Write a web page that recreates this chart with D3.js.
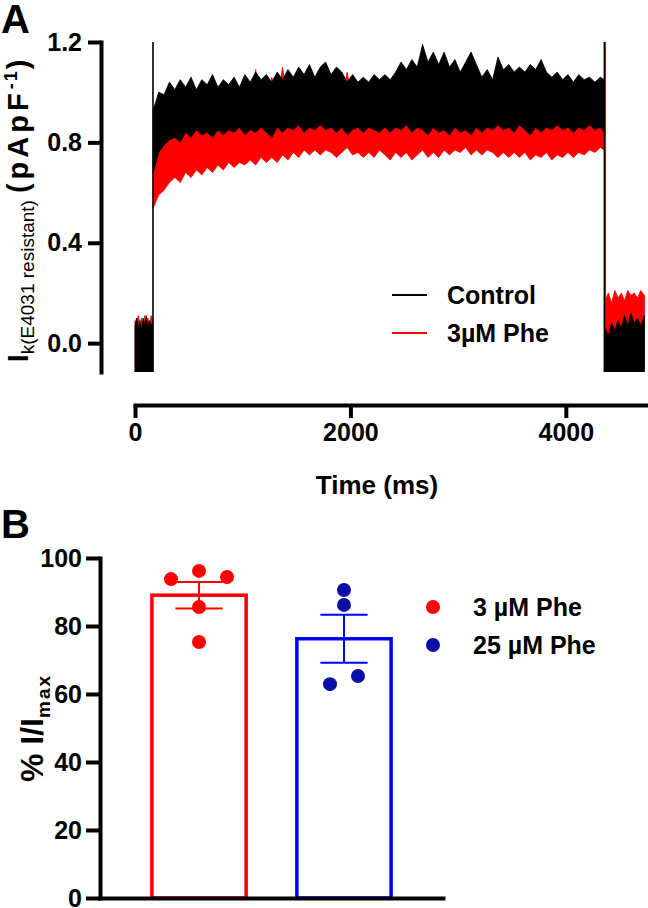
<!DOCTYPE html>
<html>
<head>
<meta charset="utf-8">
<script src="https://cdn.jsdelivr.net/npm/d3@7"></script>
<style>
  body { margin: 0; background: #fff; }
  svg { display: block; }
  text { font-family: "Liberation Sans", Arial, sans-serif; font-weight: bold; fill: #000; }
</style>
</head>
<body>
<svg id="chart" width="648" height="908"></svg>
<script>
// ---------- Panel A: current trace envelopes (time in ms, current in pA/pF)
// null marks a break in the trace (capacitive transient at step on/off)
const traceT = [0, 15, 30, 45, 60, 75, 90, 105, 120, 135, 150, 164,
  166,
  170, 220, 270, 320, 370, 420, 470, 520, 570, 620,
  670, 720, 770, 820, 870, 920, 970, 1020, 1070, 1120,
  1170, 1220, 1270, 1320, 1370, 1420, 1470, 1520, 1570, 1620,
  1670, 1720, 1770, 1820, 1870, 1920, 1970, 2020, 2070, 2120,
  2170, 2220, 2270, 2320, 2370, 2420, 2470, 2520, 2570, 2620,
  2670, 2720, 2770, 2820, 2870, 2920, 2970, 3020, 3070, 3120,
  3170, 3220, 3270, 3320, 3370, 3420, 3470, 3520, 3570, 3620,
  3670, 3720, 3770, 3820, 3870, 3920, 3970, 4020, 4070, 4120,
  4170, 4220, 4270, 4320, 4355,
  4357,
  4365, 4395, 4425, 4455, 4485, 4515, 4545, 4575, 4605, 4635, 4665, 4695, 4730];

const controlHi = [0.07, 0.10, 0.06, 0.09, 0.05, 0.10, 0.07, 0.11, 0.06, 0.09, 0.07, 0.08,
  null,
  0.93, 1.00, 0.99, 1.04, 1.01, 1.05, 1.02, 1.06, 1.01, 1.05,
  1.03, 1.07, 1.02, 1.05, 1.03, 1.06, 1.02, 1.07, 1.04, 1.08,
  1.05, 1.07, 1.04, 1.08, 1.05, 1.09, 1.06, 1.10, 1.07, 1.11,
  1.06, 1.10, 1.12, 1.07, 1.10, 1.08, 1.04, 1.07, 1.04, 1.06,
  1.04, 1.07, 1.05, 1.07, 1.05, 1.08, 1.12, 1.09, 1.13, 1.10,
  1.19, 1.12, 1.16, 1.11, 1.16, 1.10, 1.13, 1.08, 1.12, 1.16,
  1.11, 1.06, 1.09, 1.05, 1.14, 1.09, 1.11, 1.08, 1.10, 1.08,
  1.11, 1.09, 1.13, 1.08, 1.06, 1.08, 1.05, 1.07, 1.04, 1.07,
  1.05, 1.06, 1.04, 1.06, 1.05,
  null,
  0.06, 0.03, 0.08, 0.05, 0.09, 0.06, 0.11, 0.07, 0.12, 0.08, 0.10, 0.07, 0.11];

const controlLo = [-0.15, -0.15, -0.15, -0.15, -0.15, -0.15, -0.15, -0.15, -0.15, -0.15, -0.15, -0.15,
  null,
  0.68, 0.76, 0.79, 0.81, 0.82, 0.80, 0.84, 0.82, 0.85, 0.83,
  0.84, 0.82, 0.85, 0.83, 0.85, 0.84, 0.86, 0.83, 0.85, 0.84,
  0.86, 0.84, 0.82, 0.86, 0.84, 0.86, 0.85, 0.87, 0.84, 0.86,
  0.85, 0.87, 0.85, 0.86, 0.84, 0.86, 0.83, 0.85, 0.86, 0.84,
  0.86, 0.85, 0.84, 0.86, 0.84, 0.86, 0.85, 0.87, 0.84, 0.86,
  0.85, 0.83, 0.86, 0.84, 0.85, 0.83, 0.86, 0.84, 0.85, 0.83,
  0.86, 0.84, 0.86, 0.85, 0.87, 0.85, 0.86, 0.84, 0.87, 0.85,
  0.83, 0.86, 0.84, 0.86, 0.85, 0.87, 0.85, 0.86, 0.84, 0.86,
  0.85, 0.87, 0.85, 0.86, 0.84,
  null,
  -0.15, -0.15, -0.15, -0.15, -0.15, -0.15, -0.15, -0.15, -0.15, -0.15, -0.15, -0.15, -0.15];

const pheHi = [0.09, 0.08, 0.11, 0.07, 0.10, 0.06, 0.11, 0.08, 0.10, 0.07, 0.11, 0.09,
  null,
  0.80, 0.86, 0.88, 0.91, 0.89, 0.93, 0.90, 0.94, 0.91, 0.95,
  0.92, 0.95, 0.91, 0.94, 0.92, 0.96, 0.93, 0.95, 0.92, 1.09,
  0.94, 0.96, 1.06, 0.95, 1.10, 0.96, 0.93, 0.97, 0.94, 0.98,
  0.95, 0.97, 0.95, 0.98, 0.94, 0.97, 1.08, 0.95, 0.97, 0.94,
  0.96, 0.95, 0.97, 0.94, 0.96, 0.95, 0.98, 0.96, 0.99, 0.95,
  0.98, 0.96, 0.99, 0.95, 0.97, 0.94, 0.98, 1.00, 0.96, 0.98,
  0.95, 0.97, 0.94, 0.96, 0.95, 0.97, 0.94, 0.96, 0.95, 0.97,
  0.94, 0.96, 0.95, 0.97, 0.94, 0.96, 0.95, 0.97, 0.94, 0.96,
  0.95, 0.97, 0.94, 0.96, 0.93,
  null,
  0.17, 0.20, 0.16, 0.21, 0.18, 0.20, 0.17, 0.21, 0.19, 0.20, 0.18, 0.21, 0.19];

const pheLo = [-0.15, -0.15, -0.15, -0.15, -0.15, -0.15, -0.15, -0.15, -0.15, -0.15, -0.15, -0.15,
  null,
  0.54, 0.59, 0.61, 0.64, 0.66, 0.64, 0.68, 0.66, 0.69, 0.67,
  0.70, 0.68, 0.71, 0.69, 0.72, 0.70, 0.72, 0.71, 0.73, 0.71,
  0.74, 0.72, 0.74, 0.72, 0.75, 0.73, 0.76, 0.74, 0.77, 0.75,
  0.77, 0.75, 0.77, 0.76, 0.74, 0.76, 0.78, 0.75, 0.76, 0.74,
  0.76, 0.74, 0.77, 0.75, 0.73, 0.76, 0.74, 0.76, 0.73, 0.75,
  0.77, 0.74, 0.76, 0.74, 0.77, 0.75, 0.77, 0.76, 0.78, 0.75,
  0.77, 0.75, 0.77, 0.76, 0.74, 0.76, 0.74, 0.76, 0.74, 0.76,
  0.73, 0.75, 0.74, 0.76, 0.73, 0.75, 0.74, 0.76, 0.74, 0.76,
  0.75, 0.77, 0.76, 0.78, 0.77,
  null,
  -0.10, -0.10, -0.10, -0.10, -0.10, -0.10, -0.10, -0.10, -0.10, -0.10, -0.10, -0.10, -0.10];

// capacitive transients at pulse on / off (ms)
const transientT = [167, 4358];

const timeTicks = [0, 2000, 4000];
const currentTicks = [0, 0.4, 0.8, 1.2];
const traceNames = ["Control", "3\u00b5M Phe"];
const traceColors = ["#000000", "#ff0000"];

// ---------- Panel B: % I/Imax, individual cells
const groups = ["3 \u00b5M Phe", "25 \u00b5M Phe"];
const pts3 = [93.8, 96.2, 94.4, 85.6, 75.3];
const pts25 = [90.6, 86.2, 62.9, 65.3];
const pctTicks = [0, 20, 40, 60, 80, 100];
const barColors = ["#ff0000", "#0000ff"];
const dotColors = ["#ff0000", "#0c0ca8"];

[controlHi, controlLo, pheHi, pheLo].forEach(a => {
  if (a.length !== traceT.length) throw new Error("length mismatch " + a.length + " vs " + traceT.length);
});

const svg = d3.select("#chart");
const FONT = "'Liberation Sans', Arial, sans-serif";

function styleAxis(g) {
  g.attr("font-family", null).attr("font-size", null);
  g.select(".domain").attr("stroke-width", 4).attr("stroke-linecap", "square");
  g.selectAll(".tick line").attr("stroke-width", 4);
  g.selectAll(".tick text").attr("font-size", 25).attr("font-weight", "bold")
    .attr("font-family", FONT).attr("fill", "#000");
}

// ===================== Panel A =====================
const xA = d3.scaleLinear().domain([0, 4800]).range([135, 652]);
const yA = d3.scaleLinear().domain([-0.115, 1.2]).range([372, 42]);

svg.append("defs").append("clipPath").attr("id", "clipA")
  .append("rect")
  .attr("x", xA(0) - 2).attr("y", yA(1.2))
  .attr("width", 648 - xA(0) + 2).attr("height", yA(-0.115) - yA(1.2));

const control = traceT.map((t, i) => ({ t, hi: controlHi[i], lo: controlLo[i] }));
const phe = traceT.map((t, i) => ({ t, hi: pheHi[i], lo: pheLo[i] }));

const envelope = d3.area()
  .defined(d => d.hi != null)
  .x(d => xA(d.t))
  .y0(d => yA(d.lo))
  .y1(d => yA(d.hi));

const traces = svg.append("g").attr("clip-path", "url(#clipA)");

// phe drawn underneath, control on top
traces.append("path")
  .datum(phe)
  .attr("d", envelope)
  .attr("fill", traceColors[1])
  .attr("stroke", traceColors[1])
  .attr("stroke-width", 0.8)
  .attr("stroke-linejoin", "miter");

traces.append("line")
  .attr("x1", xA(transientT[1]) + 1.2).attr("x2", xA(transientT[1]) + 1.2)
  .attr("y1", yA(1.3)).attr("y2", yA(-0.2))
  .attr("stroke", traceColors[1]).attr("stroke-width", 1);

traces.append("path")
  .datum(control)
  .attr("d", envelope)
  .attr("fill", traceColors[0])
  .attr("stroke", traceColors[0])
  .attr("stroke-width", 0.8)
  .attr("stroke-linejoin", "miter");

traces.selectAll("line.transient")
  .data(transientT)
  .join("line")
  .attr("class", "transient")
  .attr("x1", d => xA(d)).attr("x2", d => xA(d))
  .attr("y1", yA(1.3)).attr("y2", yA(-0.2))
  .attr("stroke", "#000").attr("stroke-width", 1.6);

// axes
svg.append("g")
  .attr("transform", "translate(101,0)")
  .call(d3.axisLeft(yA).tickValues(currentTicks).tickFormat(d3.format(".1f"))
    .tickSize(13).tickSizeOuter(0).tickPadding(6))
  .call(styleAxis);

svg.append("g")
  .attr("transform", "translate(0,405)")
  .call(d3.axisBottom(xA).tickValues(timeTicks).tickFormat(d3.format("d"))
    .tickSize(13).tickSizeOuter(0).tickPadding(5))
  .call(styleAxis);

svg.append("text")
  .attr("x", 377).attr("y", 494)
  .attr("text-anchor", "middle")
  .attr("font-size", 26)
  .text("Time (ms)");

const yTitleA = svg.append("text")
  .attr("transform", "translate(28,211) rotate(-90)")
  .attr("text-anchor", "middle");
yTitleA.append("tspan").attr("font-size", 29).text("I");
yTitleA.append("tspan").attr("font-size", 19).attr("font-weight", "normal").attr("dy", 6)
  .text("k(E4031 resistant)");
yTitleA.append("tspan").attr("font-size", 29).attr("dy", -6).attr("dx", 7)
  .attr("letter-spacing", 4).text("(pApF");
yTitleA.append("tspan").attr("font-size", 18).attr("dy", -11).attr("letter-spacing", 2).text("-1");
yTitleA.append("tspan").attr("font-size", 29).attr("dy", 11).text(")");

// legend A
const legA = svg.append("g").selectAll("g")
  .data(traceNames)
  .join("g")
  .attr("transform", (d, i) => `translate(392,${295 + i * 38})`);
legA.append("line")
  .attr("x1", 0).attr("x2", 35)
  .attr("stroke", (d, i) => traceColors[i]).attr("stroke-width", 2);
legA.append("text")
  .attr("x", 55).attr("y", 9)
  .attr("font-size", 25)
  .text(d => d);

svg.append("text").attr("x", 1).attr("y", 33).attr("font-size", 40).text("A");

// ===================== Panel B =====================
const yB = d3.scaleLinear().domain([0, 100]).range([898, 558]);
const xB = d3.scaleBand().domain(groups).range([100, 443])
  .paddingInner(0.35).paddingOuter(0.358);

const sets = [pts3, pts25];
const stats = sets.map((pts, i) => {
  const m = d3.mean(pts);
  const sem = d3.deviation(pts) / Math.sqrt(pts.length);
  return { g: groups[i], m, sem, i };
});

const gB = svg.append("g");

gB.selectAll("rect.bar")
  .data(stats)
  .join("rect")
  .attr("class", "bar")
  .attr("x", d => xB(d.g))
  .attr("y", d => yB(d.m))
  .attr("width", xB.bandwidth())
  .attr("height", d => yB(0) - yB(d.m))
  .attr("fill", "none")
  .attr("stroke", d => barColors[d.i])
  .attr("stroke-width", 3.5);

// error bars (mean +/- SEM)
const capHalf = xB.bandwidth() * 0.25;
const eb = gB.selectAll("g.err").data(stats).join("g").attr("class", "err")
  .attr("stroke", d => barColors[d.i]).attr("stroke-width", 2);
eb.append("line")
  .attr("x1", d => xB(d.g) + xB.bandwidth() / 2).attr("x2", d => xB(d.g) + xB.bandwidth() / 2)
  .attr("y1", d => yB(d.m + d.sem)).attr("y2", d => yB(d.m - d.sem));
eb.append("line")
  .attr("x1", d => xB(d.g) + xB.bandwidth() / 2 - capHalf).attr("x2", d => xB(d.g) + xB.bandwidth() / 2 + capHalf)
  .attr("y1", d => yB(d.m + d.sem)).attr("y2", d => yB(d.m + d.sem));
eb.append("line")
  .attr("x1", d => xB(d.g) + xB.bandwidth() / 2 - capHalf).attr("x2", d => xB(d.g) + xB.bandwidth() / 2 + capHalf)
  .attr("y1", d => yB(d.m - d.sem)).attr("y2", d => yB(d.m - d.sem));

// scatter: points that would overlap are spread sideways (simple swarm)
const dotR = 7;
const dots = [];
sets.forEach((pts, gi) => {
  const cx = xB(groups[gi]) + xB.bandwidth() / 2;
  const used = new Array(pts.length).fill(false);
  pts.forEach((v, k) => {
    if (used[k]) return;
    const cluster = [k];
    used[k] = true;
    pts.forEach((w, j) => {
      if (!used[j] && cluster.some(c => Math.abs(yB(pts[c]) - yB(w)) < dotR * 2)) {
        cluster.push(j); used[j] = true;
      }
    });
    cluster.sort((a, b) => a - b);
    cluster.forEach((j, n) => {
      dots.push({ v: pts[j], gi, x: cx + (n - (cluster.length - 1) / 2) * dotR * 4 });
    });
  });
});

gB.selectAll("circle.pt")
  .data(dots)
  .join("circle")
  .attr("class", "pt")
  .attr("cx", d => d.x)
  .attr("cy", d => yB(d.v))
  .attr("r", dotR)
  .attr("fill", d => dotColors[d.gi]);

svg.append("g")
  .attr("transform", "translate(100,0)")
  .call(d3.axisLeft(yB).tickValues(pctTicks).tickSize(14).tickSizeOuter(0).tickPadding(4))
  .call(styleAxis);

svg.append("g")
  .attr("transform", "translate(0,898)")
  .call(d3.axisBottom(xB).tickSize(0).tickSizeOuter(0).tickFormat(""))
  .call(styleAxis);

const yTitleB = svg.append("text")
  .attr("transform", "translate(43,728) rotate(-90)")
  .attr("text-anchor", "middle");
yTitleB.append("tspan").attr("font-size", 32).text("% I/I");
yTitleB.append("tspan").attr("font-size", 19).attr("dy", 7).attr("letter-spacing", 2).text("max");

// legend B
const legB = svg.append("g").selectAll("g")
  .data(groups)
  .join("g")
  .attr("transform", (d, i) => `translate(433,${607 + i * 38})`);
legB.append("circle").attr("r", dotR).attr("fill", (d, i) => dotColors[i]);
legB.append("text").attr("x", 40).attr("y", 9).attr("font-size", 25).text(d => d);

svg.append("text").attr("x", 1).attr("y", 538).attr("font-size", 40).text("B");
</script>
</body>
</html>
